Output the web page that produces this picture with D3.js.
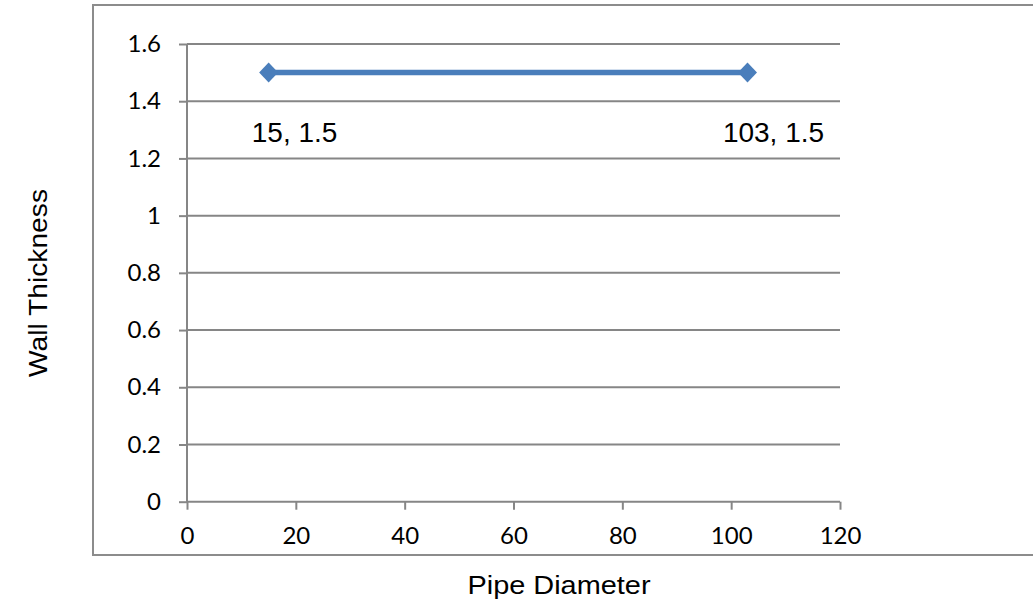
<!DOCTYPE html>
<html>
<head>
<meta charset="utf-8">
<script src="https://cdn.jsdelivr.net/npm/d3@7"></script>
<style>
  html, body { margin: 0; padding: 0; background: #fff; }
  svg { display: block; }
</style>
</head>
<body>
<script>
// Data
const pipeDiameter = [15, 103];
const wallThickness = [1.5, 1.5];
const xTicks = [0, 20, 40, 60, 80, 100, 120];
const yTicks = [0, 0.2, 0.4, 0.6, 0.8, 1, 1.2, 1.4, 1.6];
const xTitle = "Pipe Diameter";
const yTitle = "Wall Thickness";

const W = 1033, H = 603;
const svg = d3.select("body").append("svg").attr("width", W).attr("height", H);

// Outer chart border
svg.append("rect")
  .attr("x", 93).attr("y", 5).attr("width", 1000).attr("height", 550)
  .attr("fill", "none").attr("stroke", "#8c8c8c").attr("stroke-width", 2);

const x = d3.scaleLinear().domain([0, 120]).range([187, 840]);
const y = d3.scaleLinear().domain([0, 1.6]).range([501.7, 44]);

const gridColor = "#868686";
const tickFont = "Lato, 'Noto Sans', sans-serif";

// Gridlines
svg.append("g").selectAll("line").data(yTicks.filter(d => d > 0)).join("line")
  .attr("x1", x(0)).attr("x2", x(120))
  .attr("y1", d => y(d)).attr("y2", d => y(d))
  .attr("stroke", gridColor).attr("stroke-width", 2);

// Y axis
const yAxis = svg.append("g").attr("transform", `translate(${x(0)},0)`)
  .call(d3.axisLeft(y).tickValues(yTicks).tickSize(8).tickPadding(18).tickFormat(d => String(+d.toFixed(1))));
yAxis.select(".domain").attr("stroke", gridColor).attr("stroke-width", 2).attr("d", `M0,${y(0)}V${y(1.6)}`);
yAxis.selectAll(".tick line").attr("stroke", gridColor).attr("stroke-width", 2);
yAxis.selectAll(".tick text").attr("fill", "#000").style("font-family", tickFont).style("font-size", "24px");

// X axis
const xAxis = svg.append("g").attr("transform", `translate(0,${y(0)})`)
  .call(d3.axisBottom(x).tickValues(xTicks).tickSize(8).tickPadding(17));
xAxis.select(".domain").attr("stroke", gridColor).attr("stroke-width", 2).attr("d", `M${x(0)},0H${x(120)}`);
xAxis.selectAll(".tick line").attr("stroke", gridColor).attr("stroke-width", 2);
xAxis.selectAll(".tick text").attr("fill", "#000").style("font-family", tickFont).style("font-size", "24px");

// Series
const pts = pipeDiameter.map((d, i) => [d, wallThickness[i]]);
const blue = "#4a7ebb";
svg.append("path")
  .attr("d", d3.line().x(d => x(d[0])).y(d => y(d[1]))(pts))
  .attr("fill", "none").attr("stroke", blue).attr("stroke-width", 5.5);

svg.append("g").selectAll("path").data(pts).join("path")
  .attr("transform", d => `translate(${x(d[0])},${y(d[1])})`)
  .attr("d", "M0,-10L9.5,0L0,10L-9.5,0Z")
  .attr("fill", blue);

// Data labels
svg.append("g").selectAll("text").data(pts).join("text")
  .attr("x", d => x(d[0]) + 26).attr("y", d => y(d[1]) + 69)
  .attr("text-anchor", "middle")
  .style("font-family", "'Liberation Sans', Arial, sans-serif").style("font-size", "28px")
  .text(d => `${d[0]}, ${d[1]}`);

// Axis titles
svg.append("text")
  .attr("x", 559).attr("y", 594).attr("text-anchor", "middle")
  .style("font-family", "'Liberation Sans', Arial, sans-serif").style("font-size", "26px")
  .attr("textLength", 183).attr("lengthAdjust", "spacingAndGlyphs")
  .text(xTitle);

svg.append("text")
  .attr("transform", "translate(47,283) rotate(-90)").attr("text-anchor", "middle")
  .style("font-family", "'Liberation Sans', Arial, sans-serif").style("font-size", "26px")
  .attr("textLength", 188).attr("lengthAdjust", "spacingAndGlyphs")
  .text(yTitle);
</script>
</body>
</html>
